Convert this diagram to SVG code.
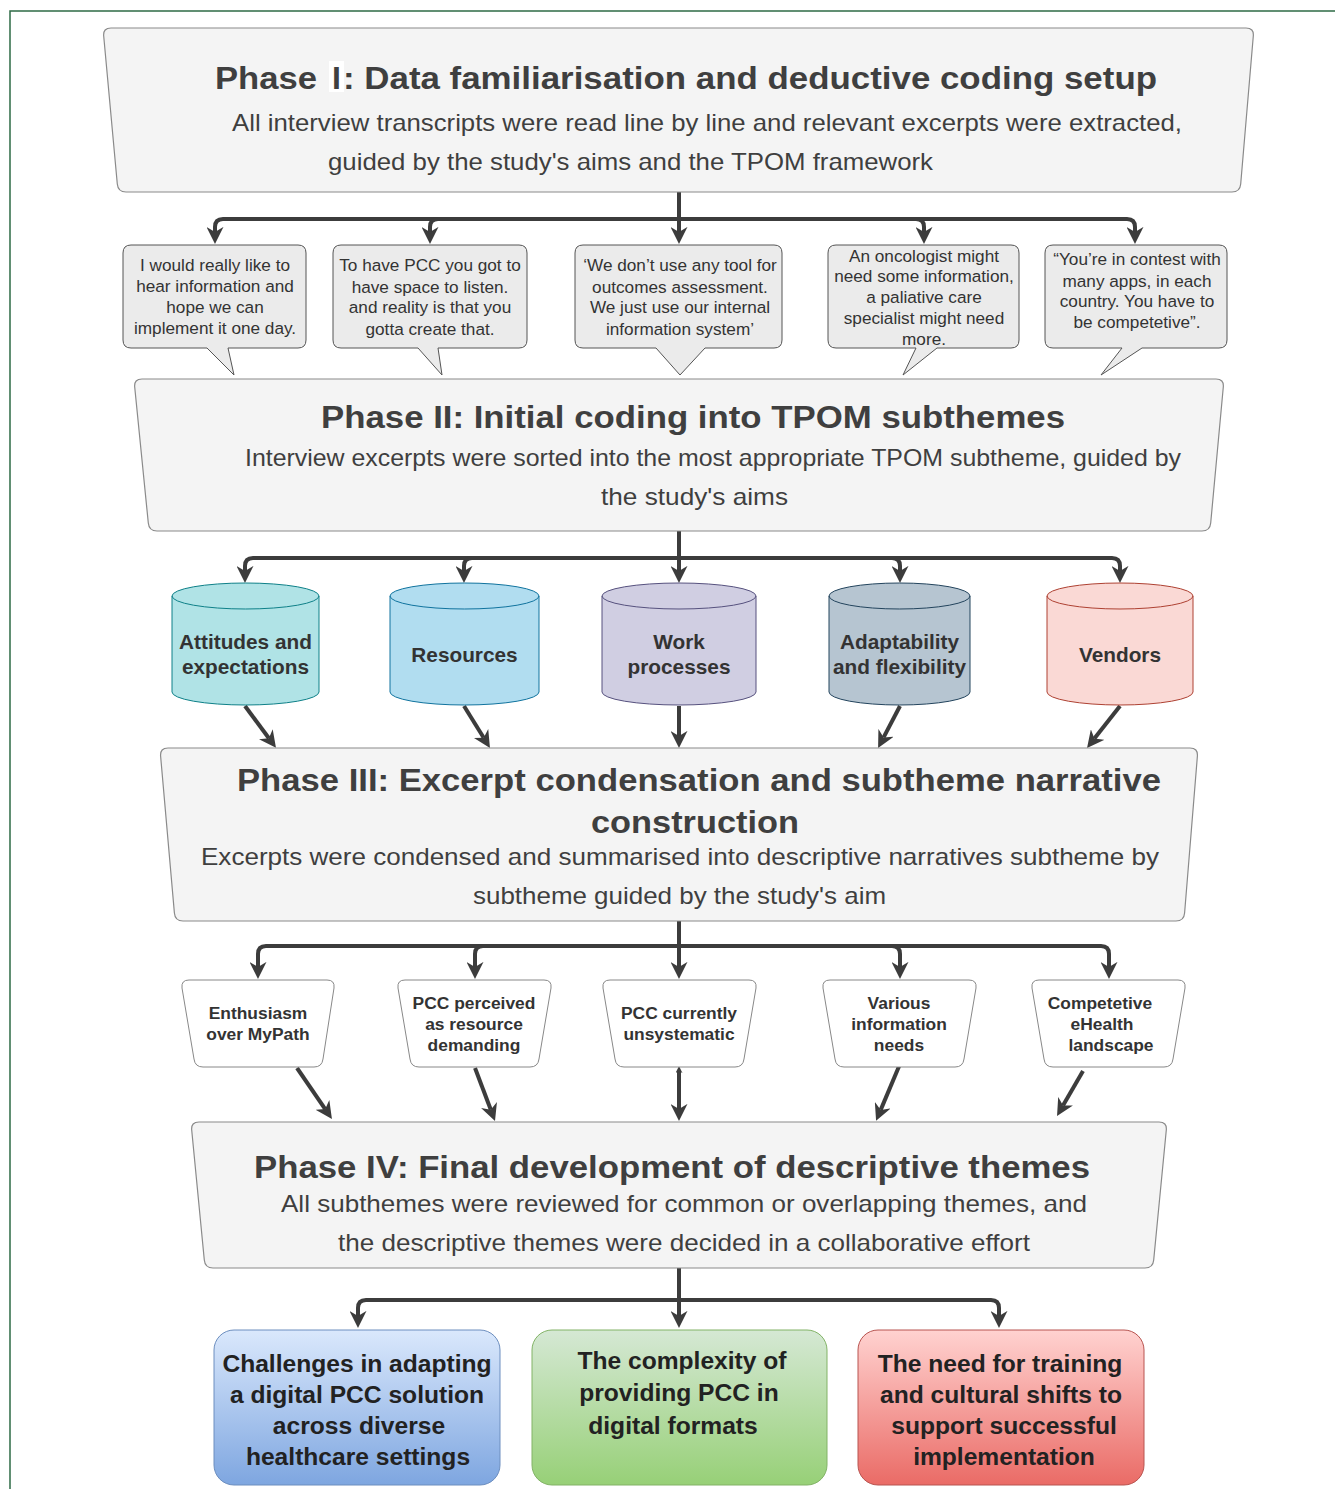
<svg xmlns="http://www.w3.org/2000/svg" width="1335" height="1489" viewBox="0 0 1335 1489">
<style>
.phase{fill:#f4f4f4;stroke:#8a8a8a;stroke-width:1.2}
.ptitle{font-family:"Liberation Sans",Arial,sans-serif;font-weight:bold;font-size:32px;fill:#3f3f3f}
.psub{font-family:"Liberation Sans",Arial,sans-serif;font-size:24px;fill:#3f3f3f}
.bub{fill:#ebebeb;stroke:#555;stroke-width:1}
.btxt{font-family:"Liberation Sans",Arial,sans-serif;font-size:17.2px;fill:#333;text-anchor:middle}
.ctxt{font-family:"Liberation Sans",Arial,sans-serif;font-size:20.8px;font-weight:bold;fill:#333;text-anchor:middle}
.trap{fill:#fff;stroke:#888;stroke-width:1}
.ttxt{font-family:"Liberation Sans",Arial,sans-serif;font-size:17.4px;font-weight:bold;fill:#333;text-anchor:middle}
.fin{font-family:"Liberation Sans",Arial,sans-serif;font-size:24.6px;font-weight:bold;fill:#222;text-anchor:middle}
.con{fill:none;stroke:#3c3c3c;stroke-width:4;marker-end:url(#arr)}
</style>
<defs>
<marker id="arr" viewBox="0 0 10 10" refX="3" refY="5" markerWidth="17" markerHeight="17" markerUnits="userSpaceOnUse" orient="auto-start-reverse">
<path d="M0,0 L10,5 L0,10 L3,5 Z" fill="#3c3c3c"/>
</marker>
<marker id="arrS" viewBox="0 0 10 10" refX="3" refY="5" markerWidth="7" markerHeight="7" markerUnits="userSpaceOnUse" orient="auto-start-reverse">
<path d="M0,0 L10,5 L0,10 L3,5 Z" fill="#3c3c3c"/>
</marker>
<linearGradient id="gBlue" x1="0" y1="0" x2="0" y2="1"><stop offset="0" stop-color="#dae8fc"/><stop offset="1" stop-color="#7ea6e0"/></linearGradient>
<linearGradient id="gGreen" x1="0" y1="0" x2="0" y2="1"><stop offset="0" stop-color="#d5e8d4"/><stop offset="1" stop-color="#97d077"/></linearGradient>
<linearGradient id="gRed" x1="0" y1="0" x2="0" y2="1"><stop offset="0" stop-color="#ffd2d0"/><stop offset="1" stop-color="#ea6b66"/></linearGradient>
</defs>
<rect width="1335" height="1489" fill="#fff"/>
<path d="M10,1489 V11 H1335" fill="none" stroke="#2e6b46" stroke-width="1.5"/>

<g id="connectors">
<path class="con" d="M679,192 V219 H223 Q215,219 215,227 V232"/>
<path class="con" d="M679,219 H438 Q430,219 430,227 V232"/>
<path class="con" d="M679,192 V232"/>
<path class="con" d="M679,219 H916 Q924,219 924,227 V232"/>
<path class="con" d="M679,219 H1127 Q1135,219 1135,227 V232"/>

<path class="con" d="M679,531 V558 H253 Q245,558 245,566 V571"/>
<path class="con" d="M679,558 H472 Q464,558 464,566 V571"/>
<path class="con" d="M679,531 V571"/>
<path class="con" d="M679,558 H892 Q900,558 900,566 V571"/>
<path class="con" d="M679,558 H1112 Q1120,558 1120,566 V571"/>

<path class="con" d="M245,706 L268.9,738.3"/>
<path class="con" d="M464,706 L483.7,737.8"/>
<path class="con" d="M679,706 V736"/>
<path class="con" d="M900,706 L883.6,737.4"/>
<path class="con" d="M1120,706 L1094.4,738.6"/>

<path class="con" d="M679,921 V946 H266 Q258,946 258,954 V967"/>
<path class="con" d="M679,946 H483 Q475,946 475,954 V967"/>
<path class="con" d="M679,921 V967"/>
<path class="con" d="M679,946 H892 Q900,946 900,954 V967"/>
<path class="con" d="M679,946 H1101 Q1109,946 1109,954 V967"/>

<path class="con" d="M297,1068 L325.2,1109.1"/>
<path class="con" d="M475,1068 L490.8,1109.8"/>
<path class="con" d="M679,1071 V1109" marker-start="url(#arrS)"/>
<path class="con" d="M900,1064 L880.7,1109.9"/>
<path class="con" d="M1083,1071 L1063,1105.6"/>

<path class="con" d="M679,1268 V1300 H366 Q358,1300 358,1308 V1316"/>
<path class="con" d="M679,1268 V1316"/>
<path class="con" d="M679,1300 H991 Q999,1300 999,1308 V1316"/>
</g>

<g id="phase1">
<path class="phase" d="M111,28 H1246 Q1254,28 1253.3,36 L1240.7,184 Q1240,192 1232,192 H126 Q118,192 117.3,184 L103.7,36 Q103,28 111,28 Z"/>
<text class="ptitle" x="215" y="89" textLength="102" lengthAdjust="spacingAndGlyphs">Phase</text>
<rect x="329" y="61" width="15" height="31" fill="#fff"/>
<text class="ptitle" x="332" y="89">I</text>
<text class="ptitle" x="343" y="89" textLength="814" lengthAdjust="spacingAndGlyphs">: Data familiarisation and deductive coding setup</text>
<text class="psub" x="232" y="130.5" textLength="950" lengthAdjust="spacingAndGlyphs">All interview transcripts were read line by line and  relevant excerpts were extracted,</text>
<text class="psub" x="328" y="169.5" textLength="605" lengthAdjust="spacingAndGlyphs">guided by  the study's aims and the TPOM framework</text>
</g>

<g id="quote1">
<path class="bub" d="M131,245 H298 Q306,245 306,253 V340 Q306,348 298,348 H228 L234,375 L207,348 H131 Q123,348 123,340 V253 Q123,245 131,245 Z"/>
<text class="btxt" x="215" y="271">I would really like to</text>
<text class="btxt" x="215" y="292">hear information and</text>
<text class="btxt" x="215" y="313">hope we can</text>
<text class="btxt" x="215" y="334">implement it one day.</text>
</g>
<g id="quote2">
<path class="bub" d="M341,245 H519 Q527,245 527,253 V340 Q527,348 519,348 H438 L442,375 L418,348 H341 Q333,348 333,340 V253 Q333,245 341,245 Z"/>
<text class="btxt" x="430" y="271">To have PCC you got to</text>
<text class="btxt" x="430" y="293">have space to listen.</text>
<text class="btxt" x="430" y="313">and reality is that you</text>
<text class="btxt" x="430" y="335">gotta create that.</text>
</g>
<g id="quote3">
<path class="bub" d="M583,245 H774 Q782,245 782,253 V340 Q782,348 774,348 H705 L680,375 L656,348 H583 Q575,348 575,340 V253 Q575,245 583,245 Z"/>
<text class="btxt" x="680" y="271">‘We don’t use any tool for</text>
<text class="btxt" x="680" y="293">outcomes assessment.</text>
<text class="btxt" x="680" y="313">We just use our internal</text>
<text class="btxt" x="680" y="335">information system’</text>
</g>
<g id="quote4">
<path class="bub" d="M836,245 H1011 Q1019,245 1019,253 V340 Q1019,348 1011,348 H937 L903,375 L916,348 H836 Q828,348 828,340 V253 Q828,245 836,245 Z"/>
<text class="btxt" x="924" y="262">An oncologist might</text>
<text class="btxt" x="924" y="282">need some information,</text>
<text class="btxt" x="924" y="303">a paliative care</text>
<text class="btxt" x="924" y="324">specialist might need</text>
<text class="btxt" x="924" y="345">more.</text>
</g>
<g id="quote5">
<path class="bub" d="M1053,245 H1219 Q1227,245 1227,253 V340 Q1227,348 1219,348 H1142 L1101,375 L1122,348 H1053 Q1045,348 1045,340 V253 Q1045,245 1053,245 Z"/>
<text class="btxt" x="1137" y="265">“You’re in contest with</text>
<text class="btxt" x="1137" y="287">many apps, in each</text>
<text class="btxt" x="1137" y="307">country. You have to</text>
<text class="btxt" x="1137" y="328">be competetive”.</text>
</g>

<g id="phase2">
<path class="phase" d="M142,379 H1216 Q1224,379 1223.3,387 L1210.7,523 Q1210,531 1202,531 H157 Q149,531 148.3,523 L134.7,387 Q134,379 142,379 Z"/>
<text class="ptitle" x="321" y="428" textLength="744" lengthAdjust="spacingAndGlyphs">Phase II: Initial coding into TPOM subthemes</text>
<text class="psub" x="245" y="465.5" textLength="936" lengthAdjust="spacingAndGlyphs">Interview excerpts were sorted into the most appropriate TPOM subtheme, guided by</text>
<text class="psub" x="601" y="504.5" textLength="187" lengthAdjust="spacingAndGlyphs">the study's aims</text>
</g>

<g id="sub-attitudes">
<path d="M172,596 A73.5,13 0 0 1 319,596 V692 A73.5,13 0 0 1 172,692 Z" fill="#b0e3e6" stroke="#0e8088" stroke-width="1"/>
<path d="M172,596 A73.5,13 0 0 0 319,596" fill="none" stroke="#0e8088" stroke-width="1"/>
<text class="ctxt" x="245.5" y="649">Attitudes and</text>
<text class="ctxt" x="245.5" y="674">expectations</text>
</g>
<g id="sub-resources">
<path d="M390,596 A74.5,13 0 0 1 539,596 V692 A74.5,13 0 0 1 390,692 Z" fill="#b1ddf0" stroke="#10739e" stroke-width="1"/>
<path d="M390,596 A74.5,13 0 0 0 539,596" fill="none" stroke="#10739e" stroke-width="1"/>
<text class="ctxt" x="464.5" y="662">Resources</text>
</g>
<g id="sub-work">
<path d="M602,596 A77,13 0 0 1 756,596 V692 A77,13 0 0 1 602,692 Z" fill="#d0cee2" stroke="#56517e" stroke-width="1"/>
<path d="M602,596 A77,13 0 0 0 756,596" fill="none" stroke="#56517e" stroke-width="1"/>
<text class="ctxt" x="679" y="649">Work</text>
<text class="ctxt" x="679" y="674">processes</text>
</g>
<g id="sub-adaptability">
<path d="M829,596 A70.5,13 0 0 1 970,596 V692 A70.5,13 0 0 1 829,692 Z" fill="#b6c5d1" stroke="#23445d" stroke-width="1"/>
<path d="M829,596 A70.5,13 0 0 0 970,596" fill="none" stroke="#23445d" stroke-width="1"/>
<text class="ctxt" x="899.5" y="649">Adaptability</text>
<text class="ctxt" x="899.5" y="674">and flexibility</text>
</g>
<g id="sub-vendors">
<path d="M1047,596 A73,13 0 0 1 1193,596 V692 A73,13 0 0 1 1047,692 Z" fill="#fad9d5" stroke="#ae4132" stroke-width="1"/>
<path d="M1047,596 A73,13 0 0 0 1193,596" fill="none" stroke="#ae4132" stroke-width="1"/>
<text class="ctxt" x="1120" y="662">Vendors</text>
</g>

<g id="phase3">
<path class="phase" d="M168,748 H1190 Q1198,748 1197.4,756 L1184.6,913 Q1184,921 1176,921 H183 Q175,921 174.4,913 L160.6,756 Q160,748 168,748 Z"/>
<text class="ptitle" x="237" y="791" textLength="924" lengthAdjust="spacingAndGlyphs">Phase III:  Excerpt condensation and subtheme narrative</text>
<text class="ptitle" x="591" y="833" textLength="208" lengthAdjust="spacingAndGlyphs">construction</text>
<text class="psub" x="201" y="864.5" textLength="958" lengthAdjust="spacingAndGlyphs">Excerpts were condensed and summarised into descriptive narratives subtheme by</text>
<text class="psub" x="473" y="903.5" textLength="413" lengthAdjust="spacingAndGlyphs">subtheme guided by the study's aim</text>
</g>

<g id="st-enthusiasm">
<path class="trap" d="M189,980 H327 Q335,980 334,988 L323,1059 Q322,1067 314,1067 H203 Q195,1067 194,1059 L182,988 Q181,980 189,980 Z"/>
<text class="ttxt" x="258" y="1019">Enthusiasm</text>
<text class="ttxt" x="258" y="1040">over MyPath</text>
</g>
<g id="st-resource">
<path class="trap" d="M405,980 H544 Q552,980 551,988 L539,1059 Q538,1067 530,1067 H419 Q411,1067 410,1059 L398,988 Q397,980 405,980 Z"/>
<text class="ttxt" x="474" y="1009">PCC perceived</text>
<text class="ttxt" x="474" y="1030">as resource</text>
<text class="ttxt" x="474" y="1051">demanding</text>
</g>
<g id="st-unsystematic">
<path class="trap" d="M610,980 H749 Q757,980 756,988 L744,1059 Q743,1067 735,1067 H624 Q616,1067 615,1059 L603,988 Q602,980 610,980 Z"/>
<text class="ttxt" x="679" y="1019">PCC currently</text>
<text class="ttxt" x="679" y="1040">unsystematic</text>
</g>
<g id="st-information">
<path class="trap" d="M830,980 H969 Q977,980 976,988 L964,1059 Q963,1067 955,1067 H844 Q836,1067 835,1059 L823,988 Q822,980 830,980 Z"/>
<text class="ttxt" x="899" y="1009">Various</text>
<text class="ttxt" x="899" y="1030">information</text>
<text class="ttxt" x="899" y="1051">needs</text>
</g>
<g id="st-competetive">
<path class="trap" d="M1039,980 H1178 Q1186,980 1185,988 L1173,1059 Q1172,1067 1164,1067 H1053 Q1045,1067 1044,1059 L1032,988 Q1031,980 1039,980 Z"/>
<text class="ttxt" x="1100" y="1009">Competetive</text>
<text class="ttxt" x="1102" y="1030">eHealth</text>
<text class="ttxt" x="1111" y="1051">landscape</text>
</g>

<g id="phase4">
<path class="phase" d="M199,1122 H1159 Q1167,1122 1166.3,1130 L1153.7,1260 Q1153,1268 1145,1268 H213 Q205,1268 204.3,1260 L191.7,1130 Q191,1122 199,1122 Z"/>
<text class="ptitle" x="254" y="1178" textLength="836" lengthAdjust="spacingAndGlyphs">Phase IV: Final development of descriptive themes</text>
<text class="psub" x="281" y="1211.5" textLength="806" lengthAdjust="spacingAndGlyphs">All subthemes were reviewed for common or overlapping themes, and</text>
<text class="psub" x="338" y="1250.5" textLength="692" lengthAdjust="spacingAndGlyphs">the descriptive themes were decided in a collaborative effort</text>
</g>

<g id="theme1">
<rect x="214" y="1330" width="286" height="155" rx="20" fill="url(#gBlue)" stroke="#6c8ebf" stroke-width="1"/>
<text class="fin" x="357" y="1371.5">Challenges in adapting</text>
<text class="fin" x="357" y="1402.5">a digital PCC solution</text>
<text class="fin" x="359" y="1433.5">across diverse</text>
<text class="fin" x="358" y="1464.5">healthcare settings</text>
</g>
<g id="theme2">
<rect x="532" y="1330" width="295" height="155" rx="20" fill="url(#gGreen)" stroke="#82b366" stroke-width="1"/>
<text class="fin" x="682" y="1368.5">The complexity of</text>
<text class="fin" x="679" y="1400.5">providing PCC in</text>
<text class="fin" x="673" y="1433.5">digital formats</text>
</g>
<g id="theme3">
<rect x="858" y="1330" width="286" height="155" rx="20" fill="url(#gRed)" stroke="#b85450" stroke-width="1"/>
<text class="fin" x="1000" y="1371.5">The need for training</text>
<text class="fin" x="1001" y="1402.5">and cultural shifts to</text>
<text class="fin" x="1004" y="1433.5">support successful</text>
<text class="fin" x="1004" y="1464.5">implementation</text>
</g>
</svg>
